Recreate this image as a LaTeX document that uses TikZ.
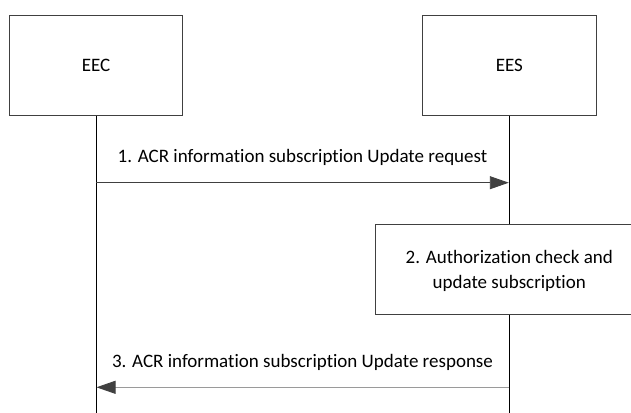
\documentclass[tikz,border=0pt]{standalone}
\usepackage{fontspec}
\setmainfont{Carlito}[Ligatures={NoCommon}]
\usetikzlibrary{arrows.meta}
\definecolor{boxline}{HTML}{404040}
\definecolor{headcol}{HTML}{404040}
\definecolor{lightline}{HTML}{9A9A9A}
\tikzset{
  entity/.style={draw=boxline, line width=0.9pt, minimum width=173.5pt, minimum height=99.7pt, inner sep=0pt, font=\fontsize{19}{22}\selectfont},
  lifeline/.style={draw=black, line width=0.9pt},
  msg/.style={line width=0.9pt, -{Triangle[length=19pt,width=13pt,color=headcol]}},
  lbl/.style={font=\fontsize{19}{25}\selectfont, inner sep=0pt},
  actbox/.style={draw=boxline, line width=0.9pt, fill=white, inner sep=0pt}
}
\begin{document}
\begin{tikzpicture}[x=1pt,y=-1pt]
\useasboundingbox (0,0) rectangle (631,412);
\node[entity] (eec) at (96,65.2) {EEC};
\node[entity] (ees) at (509.3,65.2) {EES};
\coordinate (eecend) at (96,413);
\coordinate (eesend) at (509.3,413);
\draw[lifeline] (eec.south) -- (eecend);
\draw[lifeline] (ees.south) -- (eesend);
% message 1
\coordinate (m1s) at (96,182.7);
\coordinate (m1e) at (508.8,182.7);
\draw[msg, draw=boxline] (m1s) -- (m1e);
\node[lbl] (l1) at (302.5,157) {1. ACR information subscription Update request};
% box 2
\node[actbox, minimum width=268pt, minimum height=90pt] (chk) at (509.3,269) {};
\node[lbl, align=center] (chktxt) at (509.3,270.5) {2. Authorization check and\\update subscription};
% message 3
\coordinate (m3s) at (509.3,387.3);
\coordinate (m3e) at (96.5,387.3);
\draw[msg, draw=lightline] (m3s) -- (m3e);
\node[lbl] (l3) at (302.5,362) {3. ACR information subscription Update response};
\end{tikzpicture}
\end{document}
